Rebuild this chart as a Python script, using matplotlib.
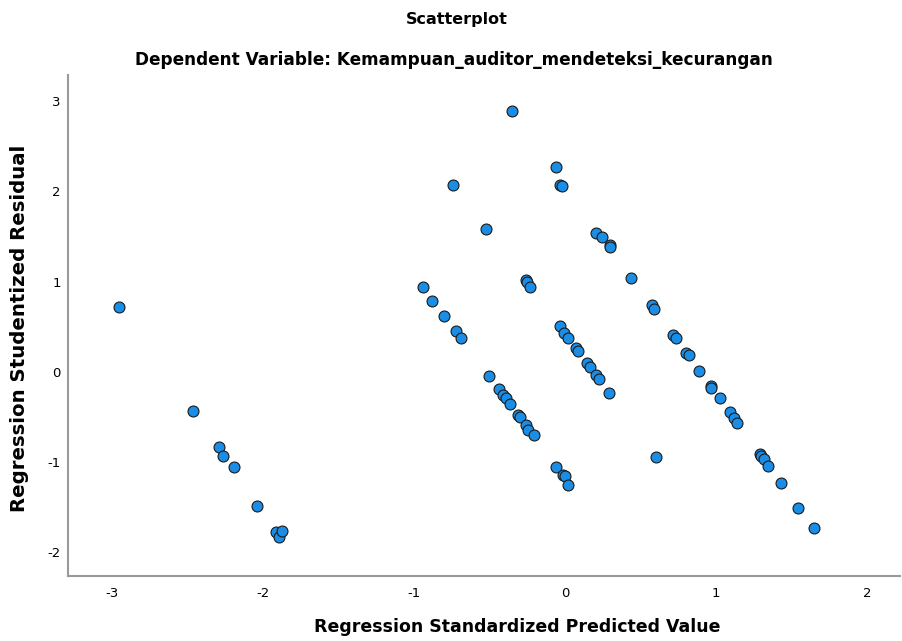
import numpy as np
import matplotlib.pyplot as plt

# standardized predicted values (x) and studentized residuals (y)
pred = [-2.95, -2.46, -2.29, -2.26, -2.19, -2.04, -1.91, -1.89, -1.87,
        -0.94, -0.88, -0.80, -0.72, -0.69, -0.74, -0.52,
        -0.35, -0.26, -0.25, -0.23, -0.503, -0.435, -0.41, -0.39, -0.364,
        -0.307, -0.30, -0.256, -0.243, -0.207, -0.058, -0.011, -0.002, 0.022,
        -0.058, -0.029, -0.022, -0.035, -0.005, 0.024, 0.077, 0.086, 0.146,
        0.166, 0.203, 0.224, 0.29, 0.60,
        0.205, 0.245, 0.298, 0.302, 0.44, 0.574, 0.59, 0.717, 0.733, 0.80,
        0.82, 0.885, 0.965, 0.968, 1.024, 1.093, 1.12, 1.14, 1.29, 1.30,
        1.318, 1.346, 1.43, 1.54, 1.65]
resid = [0.72, -0.44, -0.83, -0.93, -1.06, -1.49, -1.78, -1.83, -1.77,
         0.94, 0.79, 0.62, 0.45, 0.37, 2.07, 1.58,
         2.89, 1.02, 0.99, 0.94, -0.05, -0.195, -0.26, -0.29, -0.36,
         -0.48, -0.50, -0.59, -0.65, -0.70, -1.06, -1.145, -1.16, -1.26,
         2.27, 2.07, 2.06, 0.51, 0.43, 0.37, 0.26, 0.23, 0.10,
         0.05, -0.04, -0.08, -0.24, -0.94,
         1.54, 1.49, 1.40, 1.38, 1.04, 0.74, 0.70, 0.41, 0.37, 0.21,
         0.19, 0.01, -0.16, -0.18, -0.29, -0.45, -0.51, -0.57, -0.91, -0.93,
         -0.97, -1.05, -1.23, -1.51, -1.73]

xticks = [-3, -2, -1, 0, 1, 2]
yticks = [-2, -1, 0, 1, 2, 3]

fig = plt.figure(figsize=(9.03, 6.41), dpi=100)
ax = fig.add_axes([0.075, 0.102, 0.922, 0.781])

ax.scatter(pred, resid, s=62, c='#1a8ee6', edgecolors='#1a1a1a', linewidths=0.8, zorder=3)

ax.set_xlim(-3.29, 2.22)
ax.set_ylim(-2.26, 3.29)
ax.set_xticks(xticks)
ax.set_yticks(yticks)
ax.set_xticklabels([str(v) for v in xticks], fontsize=9.5)
ax.set_yticklabels([str(v) for v in yticks], fontsize=9.5)
ax.tick_params(axis='x', length=0, pad=8)
ax.tick_params(axis='y', length=0, pad=5)

for side in ['top', 'right']:
    ax.spines[side].set_visible(False)
for side in ['left', 'bottom']:
    ax.spines[side].set_color('#999999')
    ax.spines[side].set_linewidth(1.5)

fig.text(0.506, 0.969, 'Scatterplot', ha='center', va='center',
         fontsize=11.5, fontweight='bold')
fig.text(0.503, 0.906, 'Dependent Variable: Kemampuan_auditor_mendeteksi_kecurangan',
         ha='center', va='center', fontsize=12.2, fontweight='bold')
fig.text(0.573, 0.022, 'Regression Standardized Predicted Value', ha='center', va='center',
         fontsize=12.5, fontweight='bold')
fig.text(0.022, 0.487, 'Regression Studentized Residual', ha='center', va='center',
         rotation=90, fontsize=14.2, fontweight='bold')

fig.savefig('out.png', dpi=100)
